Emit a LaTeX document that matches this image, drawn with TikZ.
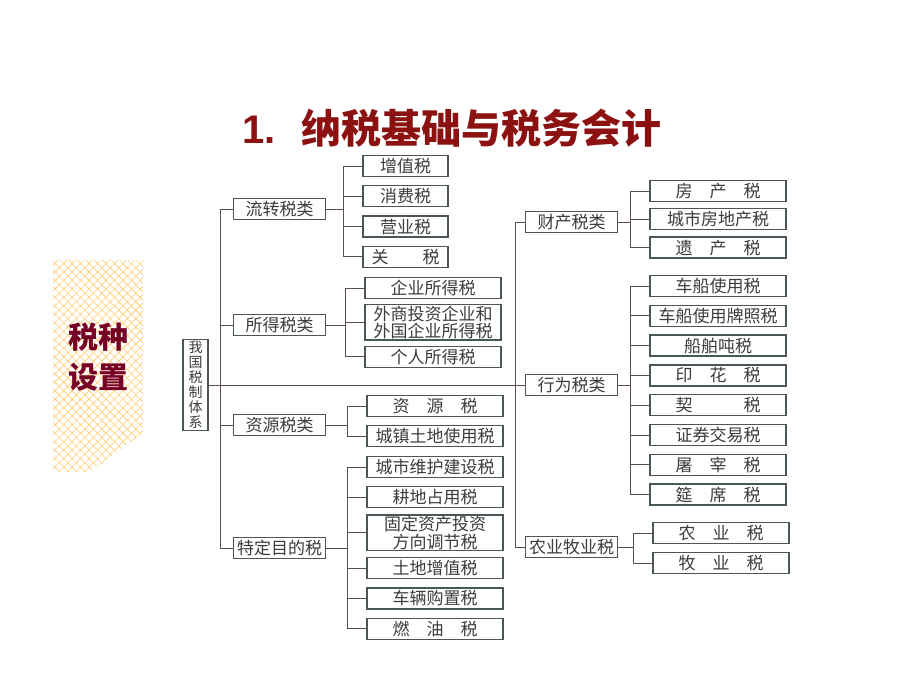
\documentclass[tikz,border=0pt]{standalone}
\usepackage{fontspec}
\setmainfont{Liberation Sans}
\newfontfamily\cjk{Noto Sans CJK SC}
\usetikzlibrary{positioning,calc,patterns.meta}
\definecolor{titlered}{RGB}{140,18,18}
\definecolor{panelred}{RGB}{118,0,38}
\definecolor{boxline}{RGB}{75,88,78}
\definecolor{boxtext}{RGB}{60,60,60}
\definecolor{linkline}{RGB}{90,78,78}
\definecolor{hatch}{RGB}{255,205,110}

\begin{document}
\begin{tikzpicture}[x=1pt, y=-1pt, node distance=8pt]
\tikzset{
  tax/.style={draw=boxline, line width=1.3pt, fill=white, text=boxtext, minimum height=21pt, inner sep=1pt, font=\cjk\fontsize{17}{17.5}\selectfont},
  kind/.style={tax, minimum width=92pt, anchor=west},
  leaf/.style={tax, minimum width=136pt},
  short/.style={tax, minimum width=85pt},
  link/.style={draw=linkline, line width=1pt},
  fork/.style={link, to path={(\tikztostart.east) -| ($(\tikztotarget.west)+(-19,0)$) -- (\tikztotarget.west)}}
}
\fill[white] (0,0) rectangle (900,675);
\useasboundingbox (0,0) rectangle (900,675);

% left panel
\fill[pattern={Lines[angle=45,distance=6pt,line width=0.6pt]}, pattern color=hatch] (53,260) -- (143,260) -- (143,433) -- (90,472) -- (53,472) -- cycle;
\fill[pattern={Lines[angle=-45,distance=6pt,line width=0.6pt]}, pattern color=hatch] (53,260) -- (143,260) -- (143,433) -- (90,472) -- (53,472) -- cycle;
\node[text=panelred, align=center, font=\cjk\bfseries\fontsize{30}{40}\selectfont] (panel) at (98,357) {税种\\设置};

% title
\node[text=titlered, anchor=west, font=\bfseries\fontsize{40}{42}\selectfont] (title) at (239,128) {1.\hspace{26pt}{\cjk 纳税基础与税务会计}};

% root
\node[draw=boxline, line width=1.3pt, text=boxtext, inner sep=1.5pt, minimum width=25pt, align=center, font=\cjk\fontsize{14}{15}\selectfont] (root) at (195.5,385) {我\\国\\税\\制\\体\\系};

% second level
\node[kind] (lz) at (233,209) {流转税类};
\node[kind] (sd) at (233,325) {所得税类};
\node[kind] (zy) at (233,425) {资源税类};
\node[kind] (td) at (233,548) {特定目的税};
\node[kind] (cc) at (525,222) {财产税类};
\node[kind] (xw) at (525,385) {行为税类};
\node[kind] (ny) at (525,547) {农业牧业税};

% taxes
\node[short] (zz) at (405.5,166) {增值税};
\node[short] (xf) [below=of zz] {消费税};
\node[short] (yy) [below=of xf] {营业税};
\node[short] (gs) [below=of yy] {关　　税};

\node[leaf] (qy) at (433,288) {企业所得税};
\node[leaf, align=center] (wq) [below=5pt of qy] {外商投资企业和\\外国企业所得税};
\node[leaf] (gr) [below=5pt of wq] {个人所得税};

\node[leaf] (ys) at (435,406) {资　源　税};
\node[leaf] (cz) [below=of ys] {城镇土地使用税};

\node[leaf] (cs) at (435,467) {城市维护建设税};
\node[leaf] (gd) [below=of cs] {耕地占用税};
\node[leaf, align=center] (gz) [below=6pt of gd] {固定资产投资\\方向调节税};
\node[leaf] (tz) [below=6pt of gz] {土地增值税};
\node[leaf] (cl) [below=of tz] {车辆购置税};
\node[leaf] (ry) [below=of cl] {燃　油　税};

\node[leaf] (fc) at (718,191) {房　产　税};
\node[leaf] (cf) [below=6pt of fc] {城市房地产税};
\node[leaf] (yc) [below=6pt of cf] {遗　产　税};

\node[leaf] (cx) at (718,286) {车船使用税};
\node[leaf] (cp) [below=7.5pt of cx] {车船使用牌照税};
\node[leaf] (cb) [below=7.5pt of cp] {船舶吨税};
\node[leaf] (yh) [below=7.5pt of cb] {印　花　税};
\node[leaf] (qs) [below=7.5pt of yh] {契　　　税};
\node[leaf] (zq) [below=7.5pt of qs] {证券交易税};
\node[leaf] (tc) [below=7.5pt of zq] {屠　宰　税};
\node[leaf] (yx) [below=7.5pt of tc] {筵　席　税};

\node[leaf] (ns) at (721,533) {农　业　税};
\node[leaf] (ms) [below=of ns] {牧　业　税};

% spines
\coordinate (lsp) at (220,0);
\coordinate (rsp) at (515,0);
\draw[link] (root.east) -- (xw.west);
\draw[link] (lz.west) -- (lz.west -| lsp) -- (td.west -| lsp) -- (td.west);
\draw[link] (sd.west) -- (sd.west -| lsp);
\draw[link] (zy.west) -- (zy.west -| lsp);
\draw[link] (cc.west) -- (cc.west -| rsp) -- (ny.west -| rsp) -- (ny.west);

% branches
\path (lz) edge[fork] (zz) edge[fork] (xf) edge[fork] (yy) edge[fork] (gs);
\path (sd) edge[fork] (qy) edge[fork] (wq) edge[fork] (gr);
\path (zy) edge[fork] (ys) edge[fork] (cz);
\path (td) edge[fork] (cs) edge[fork] (gd) edge[fork] (gz) edge[fork] (tz) edge[fork] (cl) edge[fork] (ry);
\path (cc) edge[fork] (fc) edge[fork] (cf) edge[fork] (yc);
\path (xw) edge[fork] (cx) edge[fork] (cp) edge[fork] (cb) edge[fork] (yh) edge[fork] (qs) edge[fork] (zq) edge[fork] (tc) edge[fork] (yx);
\path (ny) edge[fork] (ns) edge[fork] (ms);
\end{tikzpicture}
\end{document}
